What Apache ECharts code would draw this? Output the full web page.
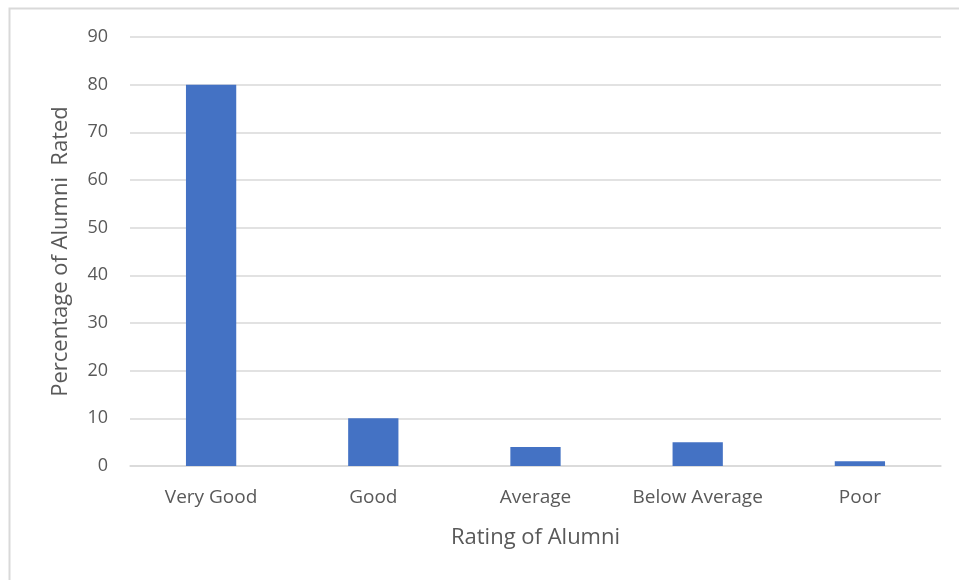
<!DOCTYPE html>
<html><head><meta charset="utf-8">
<script src="https://cdn.jsdelivr.net/npm/echarts@6/dist/echarts.min.js"></script>
<style>html,body{margin:0;padding:0;background:#fff}#c{width:959px;height:580px}</style>
</head><body><div id="c"></div>
<script>
var categories = ['Very Good', 'Good', 'Average', 'Below Average', 'Poor'];
var values = [80, 10, 4, 5, 1];
var yTicks = [0, 10, 20, 30, 40, 50, 60, 70, 80, 90];

var chart = echarts.init(document.getElementById('c'));
var font = "'Open Sans', 'Liberation Sans', sans-serif";
chart.setOption({
  animation: false,
  graphic: [{type:'rect', shape:{x:9.5, y:8.5, width:1000, height:1000}, style:{fill:'none', stroke:'#d9d9d9', lineWidth:2}, silent:true}],
  grid: {left:130, right:18, top:37, bottom:114},
  xAxis: {
    type:'category', data: categories,
    name:'Rating of Alumni', nameLocation:'middle', nameGap:61,
    nameTextStyle:{color:'#595959', fontSize:22, fontFamily:font},
    axisLine:{lineStyle:{color:'#d9d9d9', width:1.5}}, axisTick:{show:false},
    axisLabel:{color:'#595959', fontSize:19, fontFamily:font, margin:22, interval:0, hideOverlap:false}
  },
  yAxis: {
    type:'value', min:yTicks[0], max:yTicks[yTicks.length-1], interval:10,
    name:'Percentage of Alumni  Rated', nameLocation:'middle', nameGap:58,
    nameTextStyle:{color:'#595959', fontSize:22, fontFamily:font},
    axisLine:{show:false}, axisTick:{show:false},
    axisLabel:{color:'#595959', fontSize:18, fontFamily:font, margin:22},
    splitLine:{lineStyle:{color:'#d9d9d9', width:1.5}}
  },
  series: [{type:'bar', data: values, barWidth:'31%', itemStyle:{color:'#4472c4'}}]
});
</script></body></html>
